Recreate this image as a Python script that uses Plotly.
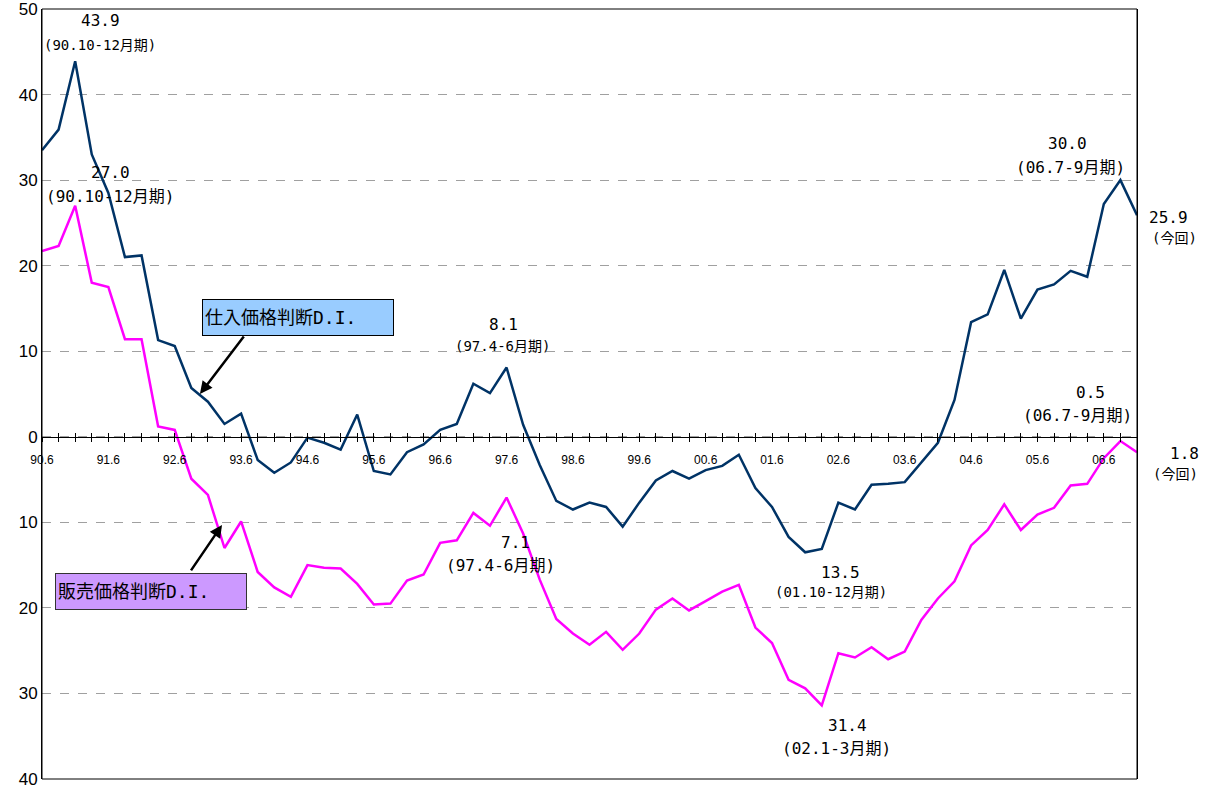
import plotly.graph_objects as go

# ---- data ----
years = ["90", "91", "92", "93", "94", "95", "96", "97", "98", "99",
         "00", "01", "02", "03", "04", "05", "06"]
months = ["3", "6", "9", "12"]
quarters = [y + "." + m for y in years for m in months][1:]  # 90.6 ... 06.12

purchase_di = [33.5, 35.9, 43.9, 33.0, 28.5, 21.0, 21.2, 11.3, 10.6, 5.7,
               4.1, 1.5, 2.7, -2.7, -4.2, -3.0, -0.1, -0.7, -1.5, 2.6,
               -4.0, -4.4, -1.8, -0.9, 0.8, 1.5, 6.2, 5.1, 8.1, 1.4,
               -3.3, -7.5, -8.5, -7.7, -8.2, -10.5, -7.7, -5.1, -4.0, -4.9,
               -3.9, -3.4, -2.1, -6.0, -8.2, -11.7, -13.5, -13.1, -7.7, -8.5,
               -5.6, -5.5, -5.3, -3.0, -0.7, 4.3, 13.4, 14.3, 19.5, 13.8,
               17.2, 17.8, 19.4, 18.7, 27.2, 30.0, 25.9]

selling_di = [21.7, 22.3, 27.0, 18.0, 17.5, 11.4, 11.4, 1.2, 0.8, -4.9,
              -6.8, -13.0, -9.9, -15.8, -17.6, -18.7, -15.0, -15.3, -15.4, -17.2,
              -19.6, -19.5, -16.8, -16.1, -12.4, -12.1, -8.9, -10.4, -7.1, -11.3,
              -16.7, -21.3, -23.0, -24.3, -22.8, -24.9, -23.0, -20.2, -18.9, -20.3,
              -19.2, -18.1, -17.3, -22.3, -24.1, -28.4, -29.4, -31.4, -25.3, -25.8,
              -24.6, -26.0, -25.1, -21.4, -18.9, -16.9, -12.7, -10.9, -7.9, -10.9,
              -9.1, -8.3, -5.7, -5.5, -2.5, -0.5, -1.8]

y_tick_vals = [-40, -30, -20, -10, 0, 10, 20, 30, 40, 50]
y_tick_text = ["40", "30", "20", "10", "0", "10", "20", "30", "40", "50"]
x_tick_text = [q if q.endswith(".6") else "" for q in quarters]

purchase_name = "仕入価格判断D.I."
selling_name = "販売価格判断D.I."

BLUE = "#003366"
PINK = "#FF00FF"
JP = "DejaVu Sans Mono, Noto Sans CJK JP"
NUM = "Liberation Sans"

fig = go.Figure()
fig.add_trace(go.Scatter(x=quarters, y=purchase_di, mode="lines", name=purchase_name,
                         line=dict(color=BLUE, width=2.5), showlegend=False))
fig.add_trace(go.Scatter(x=quarters, y=selling_di, mode="lines", name=selling_name,
                         line=dict(color=PINK, width=2.5), showlegend=False))
# helper trace for the second (inside-tick) x axis
fig.add_trace(go.Scatter(x=quarters, y=[None] * len(quarters), xaxis="x2",
                         mode="lines", hoverinfo="skip", showlegend=False))

zero_pos = 40 / 90

fig.update_layout(
    width=1209, height=791, autosize=False,
    margin=dict(l=42, r=72, t=9, b=12),
    plot_bgcolor="white", paper_bgcolor="white",
    xaxis=dict(type="category", range=[0, len(quarters) - 1],
               tickvals=quarters, ticktext=x_tick_text,
               anchor="free", position=zero_pos, automargin=False,
               showline=True, linecolor="black", linewidth=1,
               ticks="outside", ticklen=4, tickcolor="black", tickwidth=1,
               showgrid=False, zeroline=False,
               tickfont=dict(family=NUM, size=12, color="black"),
               ticklabelstandoff=8, tickangle=0),
    xaxis2=dict(type="category", range=[0, len(quarters) - 1],
                tickvals=quarters, overlaying="x", anchor="free", position=zero_pos,
                automargin=False,
                ticks="inside", ticklen=4, tickcolor="black", tickwidth=1,
                showticklabels=False, showline=False, showgrid=False, zeroline=False),
    yaxis=dict(range=[-40, 50], tickvals=y_tick_vals, ticktext=y_tick_text,
               automargin=False,
               showline=True, mirror=True, linecolor="black", linewidth=1,
               showgrid=True, gridcolor="#A0A0A0", griddash="dash", gridwidth=1,
               zeroline=False, ticks="", ticklabeloverflow="allow",
               tickfont=dict(family=NUM, size=17, color="black")),
    shapes=[dict(type="rect", xref="paper", yref="paper", x0=0, x1=1, y0=0, y1=1,
                 line=dict(color="black", width=1), layer="above")],
)

def label(idx, yval, text, dx, dy, size):
    fig.add_annotation(x=idx, y=yval, xref="x", yref="y", text=text, showarrow=False,
                       xshift=dx, yshift=dy, xanchor="center", yanchor="middle",
                       font=dict(family=JP, size=size, color="black"))

# peaks 90.12
i = quarters.index("90.12")
label(i, purchase_di[i], f"{purchase_di[i]:.1f}", 25, 41, 16)
label(i, purchase_di[i], "(90.10-12月期)", 25, 16, 14)
label(i, selling_di[i], f"{selling_di[i]:.1f}", 35, 33, 16)
label(i, selling_di[i], "(90.10-12月期)", 35, 9, 16)

i = quarters.index("97.6")
label(i, purchase_di[i], f"{purchase_di[i]:.1f}", -3, 43, 16)
label(i, purchase_di[i], "(97.4-6月期)", -4, 21, 14)
label(i, selling_di[i], f"{abs(selling_di[i]):.1f}", 9, -45, 16)
label(i, selling_di[i], "(97.4-6月期)", -6, -68, 16)

i = quarters.index("01.12")
label(i, purchase_di[i], f"{abs(purchase_di[i]):.1f}", 35, -20, 16)
label(i, purchase_di[i], "(01.10-12月期)", 26, -40, 14)

i = quarters.index("02.3")
label(i, selling_di[i], f"{abs(selling_di[i]):.1f}", 26, -20, 16)
label(i, selling_di[i], "(02.1-3月期)", 15, -43, 16)

i = quarters.index("06.9")
label(i, purchase_di[i], f"{purchase_di[i]:.1f}", -53, 37, 16)
label(i, purchase_di[i], "(06.7-9月期)", -50, 13, 16)
label(i, selling_di[i], f"{abs(selling_di[i]):.1f}", -30, 49, 16)
label(i, selling_di[i], "(06.7-9月期)", -43, 26, 16)

i = len(quarters) - 1
label(i, purchase_di[i], f"{purchase_di[i]:.1f}", 31, -2, 16)
label(i, purchase_di[i], "(今回)", 37, -23, 14)
label(i, selling_di[i], f"{abs(selling_di[i]):.1f}", 47, -1, 16)
label(i, selling_di[i], "(今回)", 38, -22, 14)

# legend boxes
fig.add_annotation(x=(298 - 42) / 1095, y=(779 - 317) / 770, xref="paper", yref="paper",
                   xanchor="center", yanchor="middle",
                   text=purchase_name, showarrow=False, align="left",
                   width=186, height=31, borderpad=2,
                   bgcolor="#99CCFF", bordercolor="black", borderwidth=1,
                   font=dict(family=JP, size=18, color="black"))
fig.add_annotation(x=(151 - 42) / 1095, y=(779 - 591) / 770, xref="paper", yref="paper",
                   xanchor="center", yanchor="middle",
                   text=selling_name, showarrow=False, align="left",
                   width=186, height=31, borderpad=2,
                   bgcolor="#CC99FF", bordercolor="#333333", borderwidth=1,
                   font=dict(family=JP, size=18, color="black"))

# arrows
fig.add_annotation(x=9.52, y=5.0, xref="x", yref="y", text="", showarrow=True,
                   ax=45, ay=-59, arrowhead=2, arrowsize=1, arrowwidth=2.5,
                   arrowcolor="black", standoff=0)
fig.add_annotation(x=10.85, y=-10.3, xref="x", yref="y", text="", showarrow=True,
                   ax=-32, ay=47, arrowhead=2, arrowsize=1, arrowwidth=2.5,
                   arrowcolor="black", standoff=0)

fig.write_html("out.html", config={"displayModeBar": False},
               post_script="document.body.style.margin='0';document.body.style.overflow='hidden';")
